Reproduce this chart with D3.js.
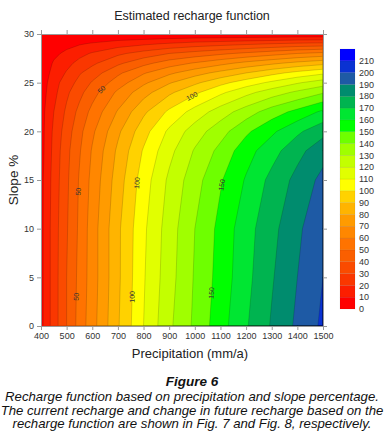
<!DOCTYPE html>
<html>
<head>
<meta charset="utf-8">
<script src="https://cdn.jsdelivr.net/npm/d3@7"></script>
<style>
  body { margin: 0; background: #fff; }
  svg { display: block; font-family: 'Liberation Sans', Arial, sans-serif; }
</style>
</head>
<body>
<div id="chart"></div>
<script>
// Grid of the recharge function
const precipitation = [400, 450, 500, 550, 600, 700, 800, 900, 1000, 1100, 1200, 1300, 1400, 1500];
const slope = [0, 5, 10, 15, 18, 20, 22, 24, 25, 26, 27, 28, 29, 30];

// one row per slope value, one column per precipitation value
const recharge = [
  [7, 25, 40, 54, 66, 89, 110, 128, 142, 156, 169, 181, 192, 202],
  [7, 25, 40, 53, 65, 88, 109, 126, 141, 154, 167, 179, 190, 200],
  [7, 25, 39, 52, 65, 88, 108, 125, 140, 153, 166, 177, 188, 198],
  [7, 24, 38, 51, 63, 85, 105, 122, 136, 149, 161, 173, 183, 193],
  [6, 23, 37, 49, 61, 82, 101, 117, 131, 143, 156, 166, 177, 186],
  [6, 22, 35, 47, 58, 78, 96, 112, 125, 136, 148, 158, 168, 177],
  [6, 20, 32, 43, 53, 71, 88, 102, 114, 125, 135, 145, 153, 162],
  [5, 17, 28, 37, 46, 62, 76, 88, 98, 108, 117, 125, 132, 139],
  [4, 16, 25, 33, 41, 55, 68, 79, 88, 97, 105, 112, 119, 125],
  [4, 13, 21, 29, 35, 48, 59, 68, 76, 83, 90, 97, 103, 108],
  [3, 11, 17, 23, 28, 38, 47, 55, 61, 67, 73, 78, 83, 87],
  [2, 8, 12, 17, 21, 28, 34, 40, 44, 48, 52, 56, 60, 63],
  [1, 4, 7, 9, 11, 15, 18, 21, 24, 26, 28, 30, 32, 33],
  [0, 0, 0, 0, 0, 0, 0, 0, 0, 0, 0, 0, 0, 0]
];

// contour levels = colour bar labels
const levels = [0, 10, 20, 30, 40, 50, 60, 70, 80, 90, 100, 110, 120, 130, 140, 150, 160, 170, 180, 190, 200, 210];
const levelStep = 10;

const precipTicks = [400, 500, 600, 700, 800, 900, 1000, 1100, 1200, 1300, 1400, 1500];
const slopeTicks = [0, 5, 10, 15, 20, 25, 30];

// labelled contours: level and the slope where its label sits
const contourLabels = [
  { level: 50, slope: 3 }, { level: 50, slope: 13.8 }, { level: 50, slope: 24.3 },
  { level: 100, slope: 3 }, { level: 100, slope: 14.7 }, { level: 100, slope: 23.6 },
  { level: 150, slope: 3.4 }, { level: 150, slope: 14.5 }
];

const bandColors = [
  '#ff0000', '#fc1e00', '#fa3700', '#fa4b00', '#fa5f00', '#ff7300', '#ff8700', '#ff9b00',
  '#ffb400', '#ffd200', '#ffff00', '#e1ff00', '#c3ff00', '#a0ff00', '#6eff00', '#00ff00',
  '#00e632', '#00b450', '#008c6e', '#1e5aa5', '#0a32d2', '#0000ff'
];

const width = 384, height = 436;
const plot = { left: 41, right: 323, top: 34, bottom: 326 };

const svg = d3.select('#chart')
  .append('svg')
    .attr('width', width)
    .attr('height', height);

const x = d3.scaleLinear().domain([400, 1500]).range([plot.left, plot.right]);
const y = d3.scaleLinear().domain([0, 30]).range([plot.bottom, plot.top]);

// contours in grid-index space, mapped through the (uneven) grid onto the scales
const nx = precipitation.length, ny = slope.length;
const colToP = d3.scaleLinear().domain(d3.range(nx)).range(precipitation);
const rowToS = d3.scaleLinear().domain(d3.range(ny)).range(slope);
const clamp = (v, lo, hi) => Math.max(lo, Math.min(hi, v));

const gridTransform = d3.geoTransform({
  point: function(cx, cy) {
    this.stream.point(
      x(colToP(clamp(cx - 0.5, 0, nx - 1))),
      y(rowToS(clamp(cy - 0.5, 0, ny - 1)))
    );
  }
});
const path = d3.geoPath(gridTransform);

const contours = d3.contours()
  .size([nx, ny])
  .thresholds(levels)(recharge.flat());

svg.append('clipPath').attr('id', 'inner')
  .append('rect')
    .attr('x', plot.left + 0.6).attr('y', plot.top + 0.6)
    .attr('width', plot.right - plot.left - 1.2)
    .attr('height', plot.bottom - plot.top - 1.2);

// filled bands (each level painted over the previous one)
svg.append('g')
  .selectAll('path')
  .data(contours)
  .join('path')
    .attr('d', path)
    .attr('fill', (d, i) => bandColors[i]);

// contour lines
svg.append('g')
  .attr('clip-path', 'url(#inner)')
  .selectAll('path')
  .data(contours.slice(1))
  .join('path')
    .attr('d', path)
    .attr('fill', 'none')
    .attr('stroke', '#000')
    .attr('stroke-opacity', 0.3)
    .attr('stroke-width', 0.5);

// bilinear lookup in the table, used to place the contour labels
function rechargeAt(p, s) {
  const i = clamp(d3.bisectRight(precipitation, p) - 1, 0, nx - 2);
  const j = clamp(d3.bisectRight(slope, s) - 1, 0, ny - 2);
  const tx = (p - precipitation[i]) / (precipitation[i + 1] - precipitation[i]);
  const ty = (s - slope[j]) / (slope[j + 1] - slope[j]);
  const a = recharge[j][i] * (1 - tx) + recharge[j][i + 1] * tx;
  const b = recharge[j + 1][i] * (1 - tx) + recharge[j + 1][i + 1] * tx;
  return a * (1 - ty) + b * ty;
}

function labelPlace(d) {
  let lo = 400, hi = 1500;
  for (let k = 0; k < 40; k++) {
    const mid = (lo + hi) / 2;
    if (rechargeAt(mid, d.slope) < d.level) lo = mid; else hi = mid;
  }
  const px = x(lo), py = y(d.slope);
  const f = (u, v) => rechargeAt(x.invert(u), y.invert(v));
  const gx = f(px + 1, py) - f(px - 1, py);
  const gy = f(px, py + 1) - f(px, py - 1);
  let angle = Math.atan2(gx, -gy) * 180 / Math.PI;
  if (angle >= 90) angle -= 180;
  if (angle < -90) angle += 180;
  return { px, py, angle };
}

svg.append('g')
  .selectAll('text')
  .data(contourLabels)
  .join('text')
    .each(function(d) {
      const pl = labelPlace(d);
      d3.select(this).attr('transform', 'translate(' + pl.px + ',' + pl.py + ') rotate(' + pl.angle + ')');
    })
    .attr('text-anchor', 'middle')
    .attr('dy', '0.35em')
    .attr('font-size', 7)
    .attr('fill', '#333')
    .text(d => d.level);

// axes on all four sides, ticks outward
function styleAxis(g) {
  g.select('.domain').attr('stroke', '#999');
  g.selectAll('.tick line').attr('stroke', '#999');
  g.selectAll('.tick text').attr('fill', '#333').attr('font-size', 9);
}

svg.append('g')
  .attr('transform', 'translate(0,' + plot.bottom + ')')
  .call(d3.axisBottom(x).tickValues(precipTicks).tickSize(4).tickPadding(3).tickFormat(d3.format('d')))
  .call(styleAxis);
svg.append('g')
  .attr('transform', 'translate(0,' + plot.top + ')')
  .call(d3.axisTop(x).tickValues(precipTicks).tickSize(4).tickFormat(''))
  .call(styleAxis);
svg.append('g')
  .attr('transform', 'translate(' + plot.left + ',0)')
  .call(d3.axisLeft(y).tickValues(slopeTicks).tickSize(4).tickPadding(3))
  .call(styleAxis);
svg.append('g')
  .attr('transform', 'translate(' + plot.right + ',0)')
  .call(d3.axisRight(y).tickValues(slopeTicks).tickSize(4).tickFormat(''))
  .call(styleAxis);

// colour bar
const barTop = levels[levels.length - 1] + levelStep;
const yBar = d3.scaleLinear().domain([0, barTop]).range([309, 49]);
const bar = svg.append('g');
bar.selectAll('rect')
  .data(levels)
  .join('rect')
    .attr('x', 340)
    .attr('y', d => yBar(d + levelStep))
    .attr('width', 15)
    .attr('height', d => yBar(d) - yBar(d + levelStep))
    .attr('fill', (d, i) => bandColors[i])
    .attr('stroke', 'rgba(0,0,0,0.12)')
    .attr('stroke-width', 0.5);
bar.selectAll('text')
  .data(levels)
  .join('text')
    .attr('x', 359)
    .attr('y', d => yBar(d))
    .attr('dy', '0.35em')
    .attr('font-size', 9)
    .attr('fill', '#333')
    .text(d => d);

// titles
svg.append('text')
  .attr('x', 192).attr('y', 20)
  .attr('text-anchor', 'middle')
  .attr('font-size', 12.5)
  .attr('fill', '#222')
  .text('Estimated recharge function');

svg.append('text')
  .attr('x', 190).attr('y', 358)
  .attr('text-anchor', 'middle')
  .attr('font-size', 13)
  .attr('fill', '#222')
  .text('Precipitation (mm/a)');

svg.append('text')
  .attr('transform', 'translate(18,180) rotate(-90)')
  .attr('text-anchor', 'middle')
  .attr('font-size', 13.5)
  .attr('fill', '#222')
  .text('Slope %');

// caption
const caption = svg.append('g')
  .attr('text-anchor', 'middle')
  .attr('font-style', 'italic')
  .attr('fill', '#111');
caption.append('text')
  .attr('x', 192).attr('y', 386)
  .attr('font-size', 13.5)
  .attr('font-weight', 'bold')
  .text('Figure 6');
caption.append('text')
  .attr('x', 192).attr('y', 400.5)
  .attr('font-size', 13.2)
  .text('Recharge function based on precipitation and slope percentage.');
caption.append('text')
  .attr('x', 192).attr('y', 414.5)
  .attr('font-size', 13.2)
  .text('The current recharge and change in future recharge based on the');
caption.append('text')
  .attr('x', 192).attr('y', 428)
  .attr('font-size', 13.2)
  .text('recharge function are shown in Fig. 7 and Fig. 8, respectively.');
</script>
</body>
</html>
